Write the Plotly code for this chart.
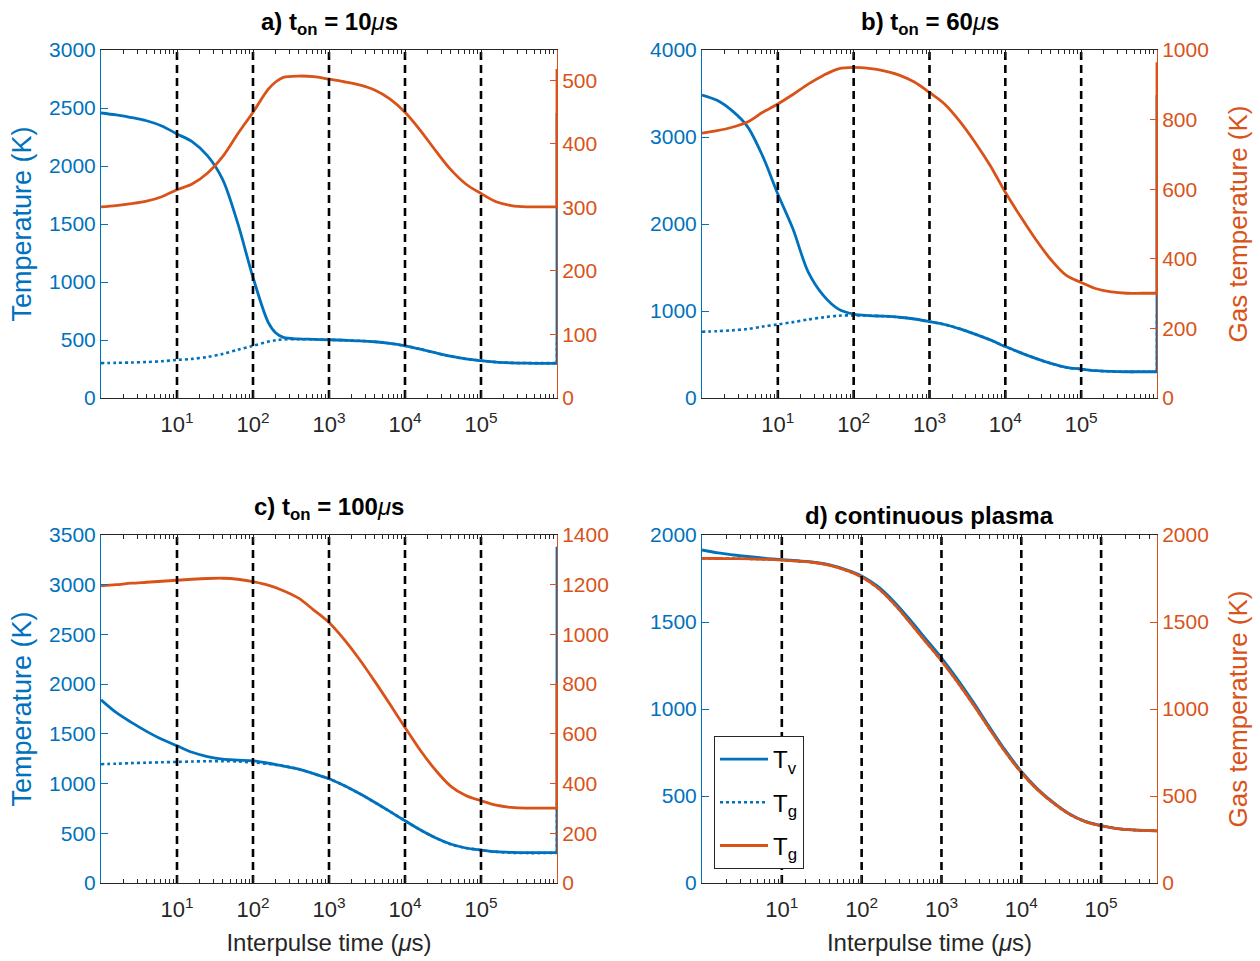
import plotly.graph_objects as go

BLUE = "#0072BD"
ORANGE = "#D95319"
AXC = "#262626"
FONT = "Liberation Sans"

# ---------------- data (time in microseconds, temperatures in K) ----------------
t_a = [1, 1.58, 2.51, 3.98, 6.31, 10, 15.8, 25.1, 39.8, 63.1, 100, 158, 200, 251, 398, 631,
       1000, 1580, 2510, 3980, 6310, 1e4, 15800, 25100, 39800, 63100, 1e5, 158000, 251000,
       398000, 631000, 1e6, 1e6]
tv_a = [2457, 2440, 2418, 2390, 2345, 2276, 2210, 2089, 1885, 1505, 1040, 655, 560, 522, 509, 506,
        502, 498, 493, 485, 471, 450, 422, 390, 360, 337, 322, 309, 303, 300, 299, 299, 2457]
tg_a = [301, 303, 306, 310, 317, 328, 337, 354, 380, 416, 450, 486, 498, 505, 507, 506,
        502, 498, 493, 485, 471, 450, 422, 390, 360, 337, 322, 309, 303, 301, 301, 301, 518]

t_b = [1, 1.58, 2.51, 3.98, 6.31, 10, 15.8, 25.1, 39.8, 63.1, 100, 158, 251, 398, 631,
       1000, 1580, 2510, 3980, 6310, 1e4, 15800, 25100, 39800, 63100, 1e5, 158000, 251000,
       398000, 631000, 1e6, 1e6]
tv_b = [3483, 3422, 3300, 3120, 2780, 2345, 1945, 1450, 1180, 1022, 965, 947, 940, 928, 908,
        878, 845, 795, 735, 668, 591, 522, 456, 398, 353, 332, 314, 305, 302, 302, 302, 3483]
tg_b = [761, 768, 778, 793, 821, 845, 872, 902, 927, 946, 950, 947, 940, 928, 908,
        878, 845, 795, 735, 668, 591, 522, 456, 398, 353, 332, 314, 305, 301, 301, 301, 965]

t_c = [1, 1.58, 2.51, 3.98, 6.31, 10, 15.8, 25.1, 39.8, 63.1, 100, 158, 251, 398, 631,
       1000, 1580, 2510, 3980, 6310, 1e4, 15800, 25100, 39800, 63100, 1e5, 158000, 251000,
       398000, 631000, 1e6, 1e6]
tv_c = [1842, 1715, 1615, 1525, 1445, 1380, 1315, 1272, 1245, 1236, 1229, 1205, 1176, 1146, 1100,
        1048, 980, 900, 812, 720, 626, 535, 455, 392, 352, 332, 315, 308, 306, 306, 306, 3382]
tg_c = [1195, 1200, 1206, 1210, 1214, 1218, 1222, 1225, 1226, 1222, 1212, 1198, 1176, 1146, 1098,
        1048, 980, 900, 812, 720, 626, 535, 455, 390, 352, 331, 313, 304, 301, 301, 301, 806]

t_d = [1, 1.58, 2.51, 3.98, 6.31, 10, 15.8, 25.1, 39.8, 63.1, 100, 158, 251, 398, 631,
       1000, 1580, 2510, 3980, 6310, 1e4, 15800, 25100, 39800, 63100, 1e5, 158000, 251000,
       398000, 501000]
tv_d = [1914, 1897, 1885, 1875, 1866, 1859, 1852, 1844, 1829, 1802, 1765, 1706, 1620, 1516, 1405,
        1294, 1172, 1038, 898, 762, 641, 543, 463, 398, 354, 330, 313, 305, 301, 300]
tg_d = [1866, 1865, 1864, 1863, 1860, 1856, 1850, 1842, 1826, 1798, 1759, 1697, 1607, 1500, 1388,
        1277, 1156, 1025, 887, 753, 635, 538, 460, 396, 353, 329, 313, 305, 301, 300]

# interpulse times marked by vertical dashed lines
dash_times = [10, 100, 1000, 1e4, 1e5]
x_tick_vals = [10, 100, 1000, 1e4, 1e5]
x_tick_text = ["10<sup>1</sup>", "10<sup>2</sup>", "10<sup>3</sup>", "10<sup>4</sup>", "10<sup>5</sup>"]

titles = ["<b>a) t<sub>on</sub> = 10</b><i>μ</i><b>s</b>",
          "<b>b) t<sub>on</sub> = 60</b><i>μ</i><b>s</b>",
          "<b>c) t<sub>on</sub> = 100</b><i>μ</i><b>s</b>",
          "<b>d) continuous plasma</b>"]
title_shift = [9, 9, 9, 4]
left_ranges = [[0, 3000], [0, 4000], [0, 3500], [0, 2000]]
left_dticks = [500, 1000, 500, 500]
right_ranges = [[0, 548], [0, 1000], [0, 1400], [0, 2000]]
right_dticks = [100, 200, 200, 500]
x_log_ranges = [[0, 6], [0, 6], [0, 6], [0, 5.7]]

series = [(t_a, tv_a, tg_a), (t_b, tv_b, tg_b), (t_c, tv_c, tg_c), (t_d, tv_d, tg_d)]

# ---------------- layout geometry (paper fractions) ----------------
W, H = 1260, 961
col_px = [(101, 557), (702, 1157)]
row_px = [(50, 398), (535, 883)]
minor_vals = [m * 10 ** k for k in range(0, 6) for m in range(2, 10)]

fig = go.Figure()
layout = dict(width=W, height=H, margin=dict(l=0, r=0, t=0, b=0, autoexpand=False),
              paper_bgcolor="white", plot_bgcolor="white",
              font=dict(family=FONT, color=AXC), annotations=[])


def add_series(t, v, xref, yref, line, name, rank, group, show):
    """Curve drawn smoothly; a final vertical jump (repeated time) drawn straight."""
    jump = len(t) > 1 and t[-1] == t[-2]
    tm, vm = (t[:-1], v[:-1]) if jump else (t, v)
    fig.add_trace(go.Scatter(x=tm, y=vm, xaxis=xref, yaxis=yref, mode="lines", name=name,
                             legendrank=rank, legendgroup=group, showlegend=show,
                             line=dict(shape="spline", smoothing=0.9, **line)))
    if jump:
        fig.add_trace(go.Scatter(x=t[-2:], y=v[-2:], xaxis=xref, yaxis=yref, mode="lines",
                                 showlegend=False, hoverinfo="skip", legendgroup=group, line=line))


for i in range(4):
    r, c = divmod(i, 2)
    xd = [col_px[c][0] / W, col_px[c][1] / W]
    yd = [1 - row_px[r][1] / H, 1 - row_px[r][0] / H]
    xn = "" if i == 0 else str(i + 1)
    yl = "" if i == 0 else str(2 * i + 1)
    yr = str(2 * i + 2)
    xref, ylref, yrref = "x" + xn, "y" + yl, "y" + yr

    t, tv, tg = series[i]
    show = (i == 3)
    add_series(t, tg, xref, ylref, dict(color=BLUE, width=2.6, dash="3px,3px"),
               "T<sub>g</sub>", 2, "tgb", show)
    add_series(t, tv, xref, ylref, dict(color=BLUE, width=2.8), "T<sub>v</sub>", 1, "tv", show)
    add_series(t, tg, xref, yrref, dict(color=ORANGE, width=2.8), "T<sub>g</sub>", 3, "tgo", show)

    dx, dy = [], []
    for v in dash_times:
        dx += [v, v, None]
        dy += [right_ranges[i][0], right_ranges[i][1], None]
    fig.add_trace(go.Scatter(x=dx, y=dy, xaxis=xref, yaxis=yrref, mode="lines", showlegend=False,
                             hoverinfo="skip", line=dict(color="black", width=2.6, dash="8px,5px")))

    xa = dict(domain=xd, anchor=ylref, type="log", range=x_log_ranges[i], automargin=False,
              showline=True, linecolor=AXC, linewidth=1, mirror="ticks",
              ticks="inside", ticklen=7, tickcolor=AXC, ticklabelstandoff=7,
              tickvals=x_tick_vals, ticktext=x_tick_text,
              tickfont=dict(family=FONT, size=22, color=AXC),
              minor=dict(tickvals=minor_vals, ticks="inside", ticklen=4, tickcolor=AXC, showgrid=False),
              showgrid=False, zeroline=False)
    if r == 1:
        xa["title"] = dict(text="Interpulse time (<i>μ</i>s)", font=dict(family=FONT, size=24, color=AXC),
                           standoff=12)
    ya = dict(domain=yd, anchor=xref, range=left_ranges[i], dtick=left_dticks[i], automargin=False,
              showline=True, linecolor=BLUE, linewidth=1, ticks="inside", ticklen=7, tickcolor=BLUE,
              tickfont=dict(family=FONT, size=21, color=BLUE), showgrid=False, zeroline=False)
    if c == 0:
        ya["title"] = dict(text="Temperature (K)", font=dict(family=FONT, size=27, color=BLUE), standoff=9)
    yb = dict(overlaying=ylref, anchor=xref, side="right", range=right_ranges[i], dtick=right_dticks[i],
              automargin=False,
              showline=True, linecolor=ORANGE, linewidth=1, ticks="inside", ticklen=7, tickcolor=ORANGE,
              tickfont=dict(family=FONT, size=21, color=ORANGE), showgrid=False, zeroline=False)
    if c == 1:
        yb["title"] = dict(text="Gas temperature (K)", font=dict(family=FONT, size=26, color=ORANGE),
                           standoff=20)

    layout["xaxis" + xn] = xa
    layout["yaxis" + yl] = ya
    layout["yaxis" + yr] = yb
    layout["annotations"].append(dict(text=titles[i], xref="paper", yref="paper",
                                      x=(xd[0] + xd[1]) / 2, y=yd[1], xanchor="center", yanchor="bottom",
                                      yshift=title_shift[i], showarrow=False,
                                      font=dict(family=FONT, size=24, color="black")))

layout["legend"] = dict(x=714 / W, y=1 - 736 / H, xanchor="left", yanchor="top",
                        bgcolor="white", bordercolor=AXC, borderwidth=1,
                        font=dict(family=FONT, size=24, color="black"),
                        itemwidth=48, tracegroupgap=9, groupclick="toggleitem")
fig.update_layout(**layout)
fig.write_html("out.html")
